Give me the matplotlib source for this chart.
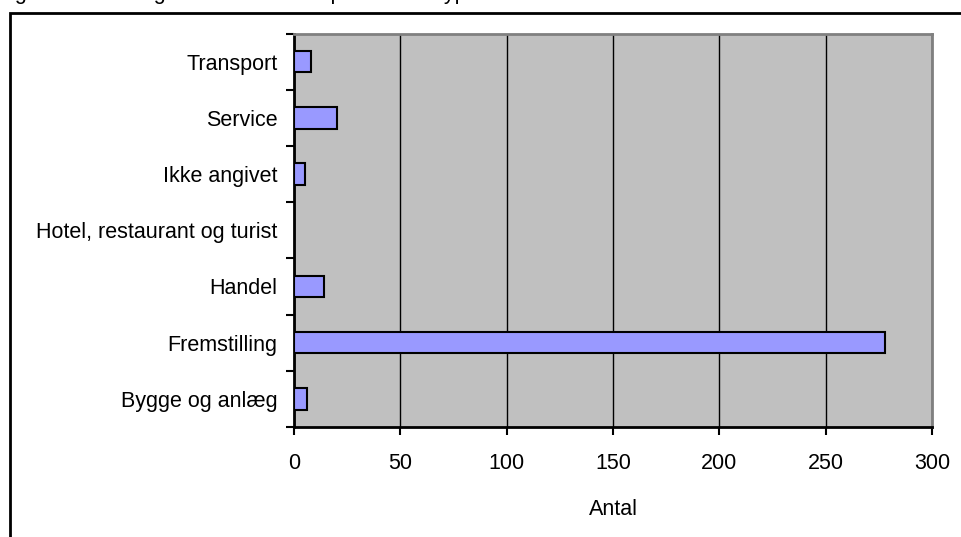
import matplotlib
matplotlib.use('Agg')
import matplotlib.pyplot as plt
from matplotlib.patches import Rectangle

# categories from bottom to top, as in the chart
categories = ['Bygge og anlæg', 'Fremstilling', 'Handel', 'Hotel, restaurant og turist',
              'Ikke angivet', 'Service', 'Transport']
antal = [6, 278, 14, 0, 5, 20, 8]
xticks = [0, 50, 100, 150, 200, 250, 300]
title = 'Figur 4: Fordeling af virksomheder på branchetype'

plt.rcParams['font.family'] = ['Liberation Sans', 'DejaVu Sans']
plt.rcParams['font.size'] = 15.5

W, H = 961, 537
fig = plt.figure(figsize=(W / 100, H / 100), dpi=100)

# title sits above the crop, only the descenders show
fig.text(-3 / W, 1.0 + 1 / H, title, ha='left', va='baseline', fontsize=15.5)

# outer frame running off the right and bottom edges
frame = Rectangle((10 / W, -0.2), 2.0, 1.2 - 13 / H, transform=fig.transFigure,
                  fill=False, edgecolor='black', linewidth=2, clip_on=False)
fig.patches.append(frame)

left, right, top, bottom = 294, 932, 33.5, 427
ax = fig.add_axes([left / W, (H - bottom) / H, (right - left) / W, (bottom - top) / H])
ax.set_facecolor('#C0C0C0')

pos = list(range(len(categories)))
ax.barh(pos, antal, height=0.38, color='#9999FF', edgecolor='black', linewidth=1.5, zorder=3)

ax.set_xlim(0, 300)
ax.set_ylim(-0.5, len(categories) - 0.5)
ax.set_xticks(xticks)
ax.set_xticklabels([str(t) for t in xticks])
ax.xaxis.grid(True, color='black', linewidth=1)
ax.set_axisbelow(True)

ax.set_yticks(pos)
ax.set_yticklabels(categories)
ax.set_yticks([p - 0.5 for p in pos] + [len(categories) - 0.5], minor=True)
ax.tick_params(axis='y', which='major', length=0, pad=12)
ax.tick_params(axis='y', which='minor', length=6, width=1.5, direction='out')
ax.tick_params(axis='x', length=6, width=1.5, direction='out', pad=13)

ax.set_xlabel('Antal', labelpad=18)

for side in ['left', 'bottom']:
    ax.spines[side].set_color('black')
    ax.spines[side].set_linewidth(2)
for side in ['top', 'right']:
    ax.spines[side].set_color('#808080')
    ax.spines[side].set_linewidth(2)

fig.savefig('out.png', dpi=100)
